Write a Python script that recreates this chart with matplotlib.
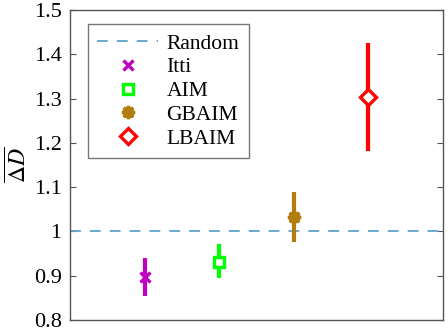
import matplotlib.pyplot as plt
import numpy as np

plt.rcParams['font.family'] = ['Liberation Serif', 'DejaVu Serif']
plt.rcParams['mathtext.fontset'] = 'stix'

# data
methods = ['Itti', 'AIM', 'GBAIM', 'LBAIM']
means = [0.897, 0.931, 1.032, 1.304]
lower = [0.855, 0.895, 0.975, 1.182]
upper = [0.940, 0.972, 1.089, 1.425]
random_level = 1.0

colors = ['#C000C0', '#00FF00', '#B07D0E', '#FF0000']
markers = ['x', 's', (8, 1, 0), 'D']
face = ['#C000C0', 'white', '#B07D0E', 'white']
sizes = [7, 7, 9, 8]

fig = plt.figure(figsize=(4.48, 3.35), dpi=100)
ax = fig.add_axes([0.156, 0.045, 0.833, 0.925])

ax.axhline(random_level, ls=(0, (6, 5)), color='#5EA3CC', lw=1.3, label='Random')

x = np.arange(1, len(methods) + 1)
for i in range(len(methods)):
    err = [[means[i] - lower[i]], [upper[i] - means[i]]]
    ax.errorbar(x[i], means[i], yerr=err, fmt='none', ecolor=colors[i],
                elinewidth=3, capsize=0)
    ax.plot(x[i], means[i], ls='none', marker=markers[i], color=colors[i],
            markerfacecolor=face[i], markeredgecolor=colors[i],
            markersize=sizes[i], markeredgewidth=2.4, label=methods[i])

ax.set_xlim(0, 5)
ax.set_ylim(0.8, 1.5)
ax.set_xticks([])
ax.set_yticks(np.arange(0.8, 1.51, 0.1))
ax.set_yticklabels(['0.8', '0.9', '1', '1.1', '1.2', '1.3', '1.4', '1.5'])
ax.tick_params(axis='y', direction='in', right=True, labelsize=16, length=4,
               color='#555555', pad=6)
for s in ax.spines.values():
    s.set_color('#555555')
    s.set_linewidth(1.0)
ax.set_ylabel(r'$\overline{\Delta D}$', fontsize=17, labelpad=2)

leg = ax.legend(loc='upper left', bbox_to_anchor=(0.048, 0.955), fontsize=15.5,
                frameon=True, fancybox=False, handlelength=2.8,
                labelspacing=0.17, borderpad=0.45, handletextpad=0.4,
                borderaxespad=0)
leg.get_frame().set_edgecolor('#555555')
leg.get_frame().set_linewidth(1.0)

fig.savefig('out.png', dpi=100)
